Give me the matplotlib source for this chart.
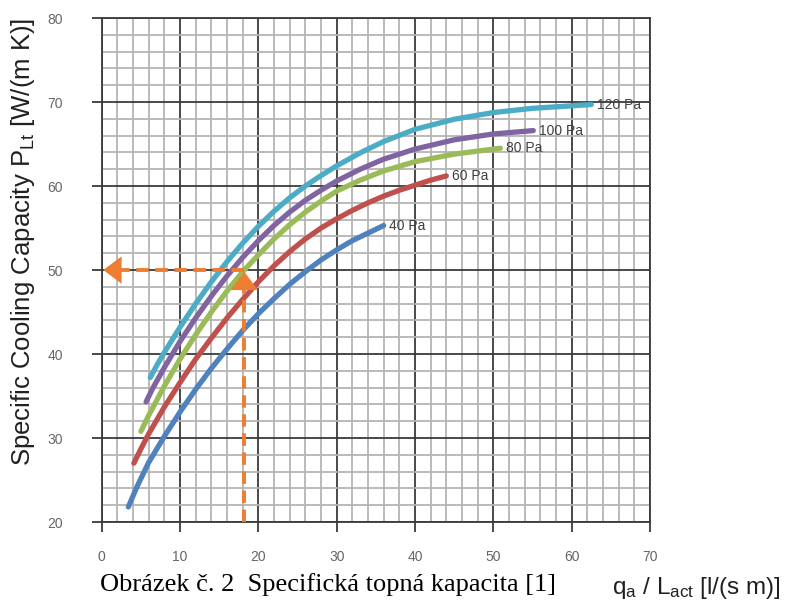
"""
Specific cooling capacity chart (recreated).
"""

import matplotlib
matplotlib.use('Agg')
import matplotlib.pyplot as plt
from matplotlib.ticker import MultipleLocator

plt.rcParams['font.family'] = ['Liberation Sans', 'DejaVu Sans']
plt.rcParams['mathtext.fontset'] = 'custom'
plt.rcParams['mathtext.rm'] = 'Liberation Sans'
plt.rcParams['mathtext.it'] = 'Liberation Sans:italic'

# curves, one per pressure
x40 = [3.4, 4.5, 6, 8, 10, 12, 14, 16, 18, 20, 22, 24, 26, 28, 30, 32, 34, 36]
y40 = [21.8, 24.2, 27.1, 30.2, 33.1, 35.8, 38.3, 40.6, 42.8, 44.8, 46.6, 48.3,
       49.8, 51.2, 52.4, 53.5, 54.4, 55.3]

x60 = [4.1, 5, 6, 8, 10, 12, 14, 16, 18, 20, 22, 24, 26, 28, 30, 32, 34, 36,
       38, 40, 42, 44]
y60 = [27.0, 28.7, 30.5, 33.7, 36.6, 39.4, 41.9, 44.3, 46.5, 48.6, 50.5, 52.2,
       53.7, 55.0, 56.1, 57.1, 58.0, 58.8, 59.5, 60.1, 60.7, 61.2]

x80 = [5.0, 6, 8, 10, 12, 14, 16, 18, 20, 22, 24, 26, 28, 30, 33, 36, 40, 45,
       50.9]
y80 = [30.8, 32.7, 36.2, 39.4, 42.3, 45.0, 47.5, 49.8, 51.8, 53.7, 55.4, 56.9,
       58.2, 59.4, 60.7, 61.8, 62.9, 63.8, 64.5]

x100 = [5.66, 6.5, 8, 10, 12, 14, 16, 18, 20, 22, 24, 26, 28, 30, 33, 36, 40,
        45, 50, 55.1]
y100 = [34.3, 35.9, 38.4, 41.5, 44.3, 46.9, 49.3, 51.5, 53.5, 55.3, 56.9, 58.3,
        59.5, 60.6, 62.0, 63.2, 64.4, 65.5, 66.2, 66.6]

x120 = [6.2, 7, 8, 10, 12, 14, 16, 18, 20, 22, 24, 26, 28, 30, 33, 36, 40, 45,
        50, 55, 62.5]
y120 = [37.2, 38.6, 40.2, 43.2, 46.0, 48.6, 51.0, 53.2, 55.2, 57.0, 58.6, 60.0,
        61.25, 62.4, 63.95, 65.3, 66.75, 67.95, 68.75, 69.25, 69.7]

labels = ['40 Pa', '60 Pa', '80 Pa', '100 Pa', '120 Pa']
colors = ['#4F81BD', '#C0504D', '#9BBB59', '#8064A2', '#4BACC6']

# reading example: flow per length -> capacity
q_read = 18.2
p_read = 50.0
orange = '#ED7D31'

fig = plt.figure(figsize=(7.99, 6.01), dpi=100)
ax = fig.add_axes([0.1273, 0.1314, 0.6862, 0.8386])

ax.set_xlim(0, 70)
ax.set_ylim(20, 80)
ax.xaxis.set_major_locator(MultipleLocator(10))
ax.yaxis.set_major_locator(MultipleLocator(10))
ax.xaxis.set_minor_locator(MultipleLocator(2))
ax.yaxis.set_minor_locator(MultipleLocator(2))
ax.grid(which='minor', color='#b4b4b4', lw=1.3, zorder=0)
ax.grid(which='major', color='#3a3a3a', lw=1.3, zorder=1)
ax.set_axisbelow(True)
ax.tick_params(which='major', direction='out', length=7, width=1.3,
               color='#3a3a3a', labelsize=10, labelcolor='#666666')
ax.tick_params(axis='y', which='major', pad=21)
ax.tick_params(axis='x', which='major', pad=13)
ax.tick_params(which='minor', length=0)
for sp in ax.spines.values():
    sp.set_color('#3a3a3a')
    sp.set_linewidth(1.3)

series = [(x40, y40), (x60, y60), (x80, y80), (x100, y100), (x120, y120)]
for (xs, ys), lab, col in zip(series, labels, colors):
    ax.plot(xs, ys, color=col, lw=3.8, solid_capstyle='round',
            solid_joinstyle='round', zorder=3)
    ax.annotate(lab, xy=(xs[-1], ys[-1]), xytext=(4, 0),
                textcoords='offset points', va='center', ha='left',
                fontsize=10, color='#404040', zorder=4)

# dashed reading lines with arrowheads
ax.plot([q_read, q_read], [20, p_read - 1.2], color=orange, lw=2.8,
        ls=(0, (3.2, 1.7)), zorder=5)
ax.plot([q_read, 1.5], [p_read, p_read], color=orange, lw=2.8,
        ls=(0, (3.2, 1.7)), zorder=5)
ax.annotate('', xy=(q_read, p_read - 0.2), xytext=(q_read, p_read - 3),
            arrowprops=dict(arrowstyle='-|>,head_length=0.6,head_width=0.45',
                            mutation_scale=22, color=orange, lw=0,
                            shrinkA=0, shrinkB=0), zorder=6)
ax.annotate('', xy=(0.2, p_read), xytext=(3, p_read),
            arrowprops=dict(arrowstyle='-|>,head_length=0.6,head_width=0.45',
                            mutation_scale=22, color=orange, lw=0,
                            shrinkA=0, shrinkB=0), zorder=6)

fig.text(0.029, 0.597, 'Specific Cooling Capacity P$_{\\mathrm{Lt}}$ [W/(m K)]',
         rotation=90, ha='center', va='center', fontsize=18.5, color='#202020')
fig.text(0.766, 0.012, 'q$_{\\mathrm{a}}$ / L$_{\\mathrm{act}}$ [l/(s m)]',
         ha='left', va='baseline', fontsize=17.5, color='#202020')
fig.text(0.125, 0.016, 'Obrázek č. 2  Specifická topná kapacita [1]',
         ha='left', va='baseline', fontsize=19, color='#000000',
         family=['Liberation Serif', 'DejaVu Serif'])

fig.savefig('out.png', dpi=100)
